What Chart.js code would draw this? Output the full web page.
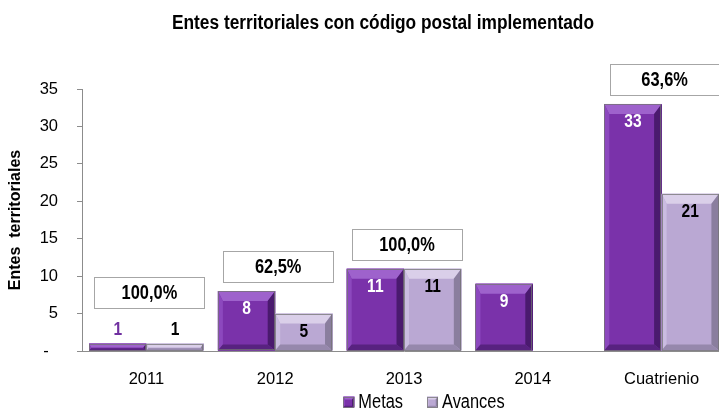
<!DOCTYPE html>
<html><head><meta charset="utf-8">
<script src="https://cdn.jsdelivr.net/npm/chart.js@4.4.0/dist/chart.umd.min.js"></script>
<style>html,body{margin:0;padding:0;background:#fff;overflow:hidden}#wrap{width:719px;height:411px;overflow:hidden;position:relative}canvas{display:block}</style>
</head><body><div id="wrap"><canvas id="c" width="727" height="411"></canvas></div>
<script>
const categories = ['2011', '2012', '2013', '2014', 'Cuatrienio'];
const metas = [1, 8, 11, 9, 33];
const avances = [1, 5, 11, null, 21];
const yTicks = [0, 5, 10, 15, 20, 25, 30, 35];
const seriesNames = ['Metas', 'Avances'];
const chartTitle = 'Entes territoriales con código postal implementado';
const yTitle = 'Entes  territoriales';

const FONT = '"Liberation Sans", Arial, Helvetica, sans-serif';
const NARROW = 0.82;

const styles = [
  { face: 'rgb(122,50,170)', top: 'rgb(158,98,204)', left: 'rgb(140,72,190)', right: 'rgb(74,26,110)', bottom: 'rgb(88,34,128)', inColor: '#ffffff', outColor: '#7030A0' },
  { face: 'rgb(186,168,211)', top: 'rgb(218,207,233)', left: 'rgb(202,188,225)', right: 'rgb(138,126,158)', bottom: 'rgb(150,136,172)', inColor: '#000000', outColor: '#000000' }
];

function poly(ctx, pts, color) {
  ctx.beginPath();
  ctx.moveTo(pts[0][0], pts[0][1]);
  for (let k = 1; k < pts.length; k++) ctx.lineTo(pts[k][0], pts[k][1]);
  ctx.closePath();
  ctx.fillStyle = color;
  ctx.fill();
}
function bevelBox(ctx, l, t, r, b, bv, st) {
  const bt = bv, bl = bv * 0.5, br = bv * 0.75, bb = bv * 0.6;
  ctx.fillStyle = st.face;
  ctx.fillRect(l, t, r - l, b - t);
  poly(ctx, [[l, t], [r, t], [r - br, t + bt], [l + bl, t + bt]], st.top);
  poly(ctx, [[l, t], [l + bl, t + bt], [l + bl, b - bb], [l, b]], st.left);
  poly(ctx, [[r, t], [r - br, t + bt], [r - br, b - bb], [r, b]], st.right);
  poly(ctx, [[l, b], [l + bl, b - bb], [r - br, b - bb], [r, b]], st.bottom);
  ctx.strokeStyle = 'rgba(115,115,115,0.75)';
  ctx.lineWidth = 1;
  ctx.strokeRect(Math.round(l) + 0.5, Math.round(t) + 0.5, Math.round(r - l) - 1, Math.round(b - t) - 1);
}
// draw text horizontally condensed (narrow face look)
function narrowText(ctx, text, x, y, font, color, align, sx) {
  ctx.save();
  ctx.font = font;
  ctx.fillStyle = color;
  ctx.textAlign = align;
  ctx.translate(x, y);
  ctx.scale(sx, 1);
  ctx.fillText(text, 0, 0);
  ctx.restore();
}

const decoPlugin = {
  id: 'deco',
  afterDatasetsDraw(chart) {
    const ctx = chart.ctx;
    const xs = chart.scales.x, ys = chart.scales.y;
    ctx.save();
    chart.data.datasets.forEach((ds, di) => {
      const meta = chart.getDatasetMeta(di);
      meta.data.forEach((bar, i) => {
        const v = ds.data[i];
        if (v == null) return;
        const p = bar.getProps(['x', 'y', 'base', 'width'], true);
        const l = p.x - p.width / 2, r = p.x + p.width / 2;
        const t = Math.min(p.y, p.base), b = Math.max(p.y, p.base);
        const bv = Math.min(10, (b - t) / 1.8, p.width / 5.5);
        bevelBox(ctx, l, t, r, b, bv, styles[di]);
      });
    });
    ctx.textBaseline = 'middle';
    chart.data.datasets.forEach((ds, di) => {
      const meta = chart.getDatasetMeta(di);
      meta.data.forEach((bar, i) => {
        const v = ds.data[i];
        if (v == null) return;
        const p = bar.getProps(['x', 'y', 'base'], true);
        const h = p.base - p.y;
        if (h >= 26) {
          narrowText(ctx, String(v), p.x, p.y + 18, 'bold 19px ' + FONT, styles[di].inColor, 'center', NARROW);
        } else {
          narrowText(ctx, String(v), p.x, p.y - 14, 'bold 19px ' + FONT, styles[di].outColor, 'center', NARROW);
        }
      });
    });
    categories.forEach((c, i) => {
      if (avances[i] == null || !metas[i]) return;
      const pct = (avances[i] / metas[i] * 100).toFixed(1).replace('.', ',') + '%';
      const cx = xs.getPixelForValue(i) + 3;
      const bottom = Math.round(ys.getPixelForValue(Math.max(metas[i], avances[i], 4.5)) - 9);
      const w = 110, hgt = 31;
      ctx.fillStyle = '#ffffff';
      ctx.fillRect(cx - w / 2, bottom - hgt, w, hgt);
      ctx.strokeStyle = '#a6a6a6';
      ctx.lineWidth = 1;
      ctx.strokeRect(Math.round(cx - w / 2) + 0.5, bottom - hgt + 0.5, w, hgt);
      narrowText(ctx, pct, cx, bottom - hgt / 2 + 1, 'bold 20px ' + FONT, '#000', 'center', NARROW);
    });
    ctx.restore();
  },
  afterDraw(chart) {
    const ctx = chart.ctx;
    ctx.save();
    ctx.textBaseline = 'alphabetic';
    narrowText(ctx, chartTitle, 383, 29, 'bold 20px ' + FONT, '#000', 'center', 0.865);
    ctx.textBaseline = 'middle';
    ctx.font = '20px ' + FONT;
    const sq = 11, gap = 4, spacing = 24;
    const widths = seriesNames.map(n => sq + gap + ctx.measureText(n).width * NARROW);
    const total = widths.reduce((a, b) => a + b, 0) + spacing * (seriesNames.length - 1);
    let x = 424 - total / 2;
    const yc = 402;
    seriesNames.forEach((n, k) => {
      bevelBox(ctx, x, yc - sq / 2, x + sq, yc + sq / 2, 3, styles[k]);
      narrowText(ctx, n, x + sq + gap, yc, '20px ' + FONT, '#000', 'left', NARROW);
      x += widths[k] + spacing;
    });
    ctx.restore();
  }
};

new Chart(document.getElementById('c'), {
  type: 'bar',
  data: {
    labels: categories,
    datasets: [
      { label: seriesNames[0], data: metas, backgroundColor: styles[0].face, borderWidth: 0 },
      { label: seriesNames[1], data: avances, backgroundColor: styles[1].face, borderWidth: 0 }
    ]
  },
  options: {
    responsive: false,
    devicePixelRatio: 1,
    animation: false,
    layout: { padding: { top: 89, right: 1, bottom: 21, left: 0 } },
    datasets: { bar: { categoryPercentage: 0.89, barPercentage: 1.0 } },
    plugins: { legend: { display: false }, title: { display: false }, tooltip: { enabled: false } },
    scales: {
      x: {
        grid: { display: false, drawTicks: false },
        border: { display: true, color: '#8c8c8c', width: 1 },
        ticks: { color: '#000', font: { family: FONT, size: 16.5 }, padding: 19, maxRotation: 0 },
        afterFit: s => { s.height = 39; }
      },
      y: {
        min: 0, max: 35,
        afterBuildTicks: s => { s.ticks = yTicks.map(v => ({ value: v })); },
        grid: { display: true, drawOnChartArea: false, drawTicks: true, tickLength: 5, color: '#8c8c8c' },
        border: { display: true, color: '#8c8c8c', width: 1 },
        ticks: { color: '#000', font: { family: FONT, size: 16.5 }, padding: 19,
                 callback: v => v === 0 ? '-  ' : String(v) },
        title: { display: true, text: yTitle, color: '#000', font: { family: FONT, size: 16, weight: 'bold' }, padding: { top: 6, bottom: 0 } },
        afterFit: s => { s.width = 82; }
      }
    }
  },
  plugins: [decoPlugin]
});
</script>
</body></html>
